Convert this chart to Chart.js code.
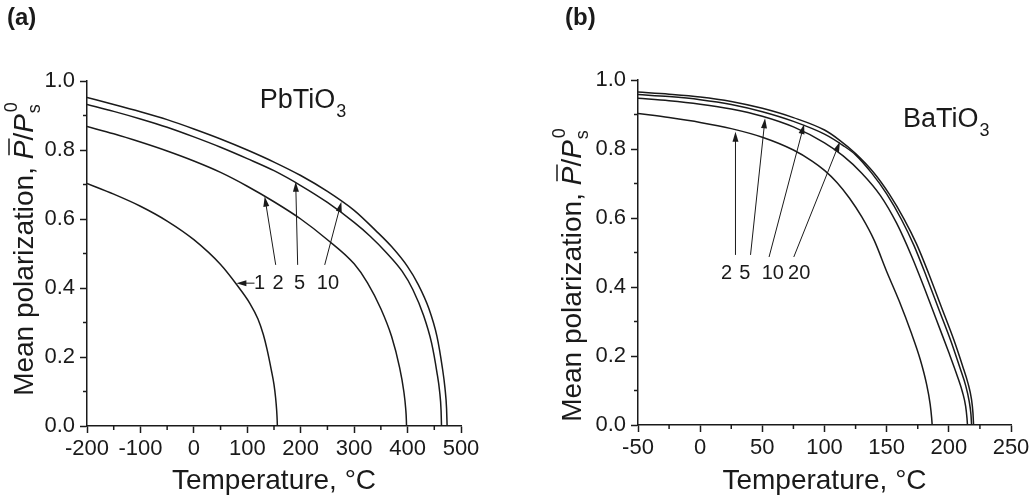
<!DOCTYPE html>
<html>
<head>
<meta charset="utf-8">
<script src="https://cdn.jsdelivr.net/npm/chart.js@4.4.1/dist/chart.umd.min.js"></script>
<style>
  body { margin: 0; background: #fff; }
  #wrap { position: relative; width: 1034px; height: 499px; }
  canvas { position: absolute; top: 0; }
  #chartA { left: 0; }
  #chartB { left: 517px; }
</style>
</head>
<body>
<div id="wrap">
  <canvas id="chartA" width="517" height="499"></canvas>
  <canvas id="chartB" width="517" height="499"></canvas>
</div>
<script>
// (a) PbTiO3 curves, [temperature °C, mean polarization]
const pbCurve1 = [[-200,0.703],[-150,0.672],[-100,0.637],[-50,0.594],[0,0.54],[50,0.468],[80,0.41],[105,0.355],[120,0.31],[130,0.265],[137,0.222],[145,0.162],[150,0.12],[153,0.082],[155,0.045],[156,0.015],[156.3,0]];
const pbCurve2 = [[-200,0.868],[-150,0.847],[-100,0.823],[-50,0.797],[0,0.768],[50,0.735],[100,0.695],[150,0.65],[200,0.6],[250,0.54],[300,0.47],[325,0.415],[350,0.34],[370,0.26],[385,0.17],[393,0.1],[396.5,0.05],[397.8,0.015],[398,0]];
const pbCurve5 = [[-200,0.932],[-150,0.912],[-100,0.89],[-50,0.866],[0,0.838],[50,0.808],[100,0.775],[150,0.74],[200,0.697],[250,0.648],[300,0.59],[330,0.55],[360,0.503],[390,0.448],[410,0.395],[430,0.32],[445,0.24],[455,0.155],[460,0.1],[462.7,0.045],[463.5,0]];
const pbCurve10 = [[-200,0.952],[-150,0.932],[-100,0.911],[-50,0.888],[0,0.861],[50,0.832],[100,0.8],[150,0.765],[200,0.726],[250,0.68],[300,0.625],[340,0.567],[370,0.52],[400,0.462],[420,0.41],[440,0.34],[455,0.26],[465,0.17],[470,0.11],[473,0.05],[474,0]];

// (b) BaTiO3 curves
const baCurve2 = [[-50,0.903],[-25,0.891],[0,0.877],[25,0.859],[50,0.834],[75,0.797],[90,0.765],[100,0.738],[110,0.703],[120,0.658],[130,0.603],[140,0.535],[150,0.445],[160,0.36],[170,0.265],[177,0.19],[182,0.12],[185,0.06],[186.2,0.02],[186.6,0]];
const baCurve5 = [[-50,0.947],[-25,0.94],[0,0.93],[25,0.916],[50,0.895],[75,0.864],[100,0.818],[115,0.78],[130,0.73],[145,0.665],[158,0.585],[170,0.49],[180,0.4],[190,0.305],[200,0.21],[207,0.14],[211,0.095],[213.5,0.055],[214.6,0.02],[215,0]];
const baCurve10 = [[-50,0.958],[-25,0.952],[0,0.943],[25,0.929],[50,0.908],[75,0.88],[100,0.843],[115,0.81],[125,0.783],[138,0.73],[150,0.67],[162,0.595],[172,0.52],[182,0.43],[192,0.335],[202,0.24],[209,0.165],[213.5,0.115],[216.3,0.07],[217.8,0.03],[218.3,0]];
const baCurve20 = [[-50,0.965],[-25,0.959],[0,0.951],[25,0.938],[50,0.918],[75,0.891],[100,0.855],[112,0.826],[125,0.787],[140,0.73],[152,0.67],[164,0.597],[174,0.525],[184,0.437],[194,0.342],[204,0.247],[211,0.172],[215.5,0.12],[218.2,0.075],[219.4,0.035],[219.9,0]];

// axis ranges and ticks
const pbXRange = [-200, 500, 100];
const baXRange = [-50, 250, 50];
const yRange = [0, 1, 0.2];

// curve labels with arrows, in data units: label point, arrow tail, arrow tip
const pbArrows = [
  { text: '1',  at: [123, 0.414],   tail: [113.5, 0.414], tip: [79.6, 0.414] },
  { text: '2',  at: [157.5, 0.414], tail: [153.2, 0.467], tip: [132.6, 0.665] },
  { text: '5',  at: [198, 0.414],   tail: [194.3, 0.467], tip: [190.6, 0.708] },
  { text: '10', at: [251, 0.414],   tail: [244.9, 0.467], tip: [276.1, 0.65] }
];
const baArrows = [
  { text: '2',  at: [21.2, 0.438], tail: [28.4, 0.493], tip: [28.4, 0.85] },
  { text: '5',  at: [35.9, 0.438], tail: [40.5, 0.493], tip: [52.2, 0.889] },
  { text: '10', at: [58.4, 0.438], tail: [55.4, 0.487], tip: [83.6, 0.872] },
  { text: '20', at: [79.6, 0.438], tail: [75.3, 0.487], tip: [112.4, 0.821] }
];

const FONT = '"Liberation Sans", Arial, sans-serif';
const INK = '#1a1a1a';

function toPoints(arr) {
  return arr.map(p => ({ x: p[0], y: p[1] }));
}

function drawArrow(ctx, x0, y0, x1, y1) {
  const ang = Math.atan2(y1 - y0, x1 - x0);
  const len = 10, half = 3;
  ctx.beginPath();
  ctx.moveTo(x0, y0);
  ctx.lineTo(x1 - Math.cos(ang) * len * 0.8, y1 - Math.sin(ang) * len * 0.8);
  ctx.stroke();
  ctx.beginPath();
  ctx.moveTo(x1, y1);
  ctx.lineTo(x1 - Math.cos(ang) * len - Math.sin(ang) * half, y1 - Math.sin(ang) * len + Math.cos(ang) * half);
  ctx.lineTo(x1 - Math.cos(ang) * len + Math.sin(ang) * half, y1 - Math.sin(ang) * len - Math.cos(ang) * half);
  ctx.closePath();
  ctx.fill();
}

// y axis title: Mean polarization, P̄/P_s^0 (rotated)
function drawYTitle(ctx, bx, cy) {
  ctx.save();
  ctx.translate(bx, cy);
  ctx.rotate(-Math.PI / 2);
  ctx.textBaseline = 'alphabetic';
  ctx.textAlign = 'left';
  const big = '28px ' + FONT, ital = 'italic 28px ' + FONT, small = '18px ' + FONT;
  const parts = [
    { t: 'Mean polarization, ', f: big },
    { t: 'P', f: ital, bar: true },
    { t: '/', f: big },
    { t: 'P', f: ital }
  ];
  let total = 0;
  parts.forEach(p => { ctx.font = p.f; p.w = ctx.measureText(p.t).width; total += p.w; });
  ctx.font = small;
  total += ctx.measureText('0').width + 2;
  let x = -total / 2;
  parts.forEach(p => {
    ctx.font = p.f;
    ctx.fillText(p.t, x, 0);
    if (p.bar) {
      ctx.lineWidth = 1.5;
      ctx.beginPath();
      ctx.moveTo(x + 4, -24);
      ctx.lineTo(x + p.w + 2, -24);
      ctx.stroke();
    }
    x += p.w;
  });
  ctx.font = small;
  ctx.fillText('s', x + 1, 7);
  ctx.fillText('0', x + 2, -16);
  ctx.restore();
}

function makePlugin(cfg) {
  return {
    id: 'annot',
    afterDraw(chart) {
      const { ctx, chartArea } = chart;
      const xs = chart.scales.x, ys = chart.scales.y;
      ctx.save();
      ctx.fillStyle = INK;
      ctx.strokeStyle = INK;

      // minor ticks halfway between major ones
      ctx.lineWidth = 1.5;
      const xt = xs.ticks.map(t => t.value), yt = ys.ticks.map(t => t.value);
      for (let i = 0; i < xt.length - 1; i++) {
        const px = xs.getPixelForValue((xt[i] + xt[i + 1]) / 2);
        ctx.beginPath();
        ctx.moveTo(px, chartArea.bottom);
        ctx.lineTo(px, chartArea.bottom + 4);
        ctx.stroke();
      }
      for (let i = 0; i < yt.length - 1; i++) {
        const py = ys.getPixelForValue((yt[i] + yt[i + 1]) / 2);
        ctx.beginPath();
        ctx.moveTo(chartArea.left, py);
        ctx.lineTo(chartArea.left - 4, py);
        ctx.stroke();
      }

      // arrows and curve numbers
      ctx.lineWidth = 1;
      cfg.arrows.forEach(a => {
        drawArrow(ctx, xs.getPixelForValue(a.tail[0]), ys.getPixelForValue(a.tail[1]),
                  xs.getPixelForValue(a.tip[0]), ys.getPixelForValue(a.tip[1]));
      });
      ctx.font = '20px ' + FONT;
      ctx.textAlign = 'center';
      ctx.textBaseline = 'middle';
      cfg.arrows.forEach(a => {
        ctx.fillText(a.text, xs.getPixelForValue(a.at[0]), ys.getPixelForValue(a.at[1]));
      });

      // compound name
      ctx.textAlign = 'left';
      ctx.textBaseline = 'alphabetic';
      ctx.font = '27px ' + FONT;
      const nx = xs.getPixelForValue(cfg.name.at[0]);
      const ny = ys.getPixelForValue(cfg.name.at[1]);
      ctx.fillText(cfg.name.text, nx, ny);
      const nw = ctx.measureText(cfg.name.text).width;
      ctx.font = '18px ' + FONT;
      ctx.fillText(cfg.name.sub, nx + nw + 1, ny + 9);

      // axis titles
      ctx.font = '28px ' + FONT;
      ctx.textAlign = 'center';
      ctx.fillText('Temperature, \u00B0C', (chartArea.left + chartArea.right) / 2, 489);
      drawYTitle(ctx, cfg.yTitleX, cfg.yTitleY);

      // panel letter
      ctx.font = 'bold 24px ' + FONT;
      ctx.textAlign = 'left';
      ctx.fillText(cfg.panel, cfg.panelX, 25);
      ctx.restore();
    }
  };
}

function makeChart(id, curves, xRange, pad, yWidth, xHeight, cfg) {
  const ctx = document.getElementById(id).getContext('2d');
  return new Chart(ctx, {
    type: 'scatter',
    data: {
      datasets: curves.map(c => ({
        data: toPoints(c),
        showLine: true,
        borderColor: INK,
        borderWidth: 1.5,
        pointRadius: 0,
        cubicInterpolationMode: 'monotone',
        fill: false
      }))
    },
    options: {
      responsive: false,
      animation: false,
      layout: { padding: pad },
      plugins: { legend: { display: false }, tooltip: { enabled: false } },
      scales: {
        x: {
          type: 'linear',
          min: xRange[0], max: xRange[1],
          afterFit: s => { s.height = xHeight; },
          ticks: { stepSize: xRange[2], color: INK, padding: 3, maxRotation: 0, autoSkip: false,
                   font: { family: FONT, size: 22 } },
          grid: { drawOnChartArea: false, drawTicks: true, tickLength: 7, tickColor: INK, tickWidth: 1.5 },
          border: { display: true, color: INK, width: 1.5 }
        },
        y: {
          type: 'linear',
          min: yRange[0], max: yRange[1],
          afterFit: s => { s.width = yWidth; },
          ticks: { stepSize: yRange[2], color: INK, padding: 5, autoSkip: false,
                   font: { family: FONT, size: 22 },
                   callback: v => v.toFixed(1) },
          grid: { drawOnChartArea: false, drawTicks: true, tickLength: 7, tickColor: INK, tickWidth: 1.5 },
          border: { display: true, color: INK, width: 1.5 }
        }
      }
    },
    plugins: [makePlugin(cfg)]
  });
}

makeChart('chartA', [pbCurve1, pbCurve2, pbCurve5, pbCurve10], pbXRange,
  { left: 0, right: 56, top: 81, bottom: 0 }, 87, 73,
  { arrows: pbArrows, name: { text: 'PbTiO', sub: '3', at: [123.2, 0.921] },
    yTitleX: 33, yTitleY: 249, panel: '(a)', panelX: 7 });

makeChart('chartB', [baCurve2, baCurve5, baCurve10, baCurve20], baXRange,
  { left: 0, right: 23, top: 80, bottom: 0 }, 121, 74,
  { arrows: baArrows, name: { text: 'BaTiO', sub: '3', at: [163.1, 0.865] },
    yTitleX: 64, yTitleY: 275, panel: '(b)', panelX: 48 });
</script>
</body>
</html>
